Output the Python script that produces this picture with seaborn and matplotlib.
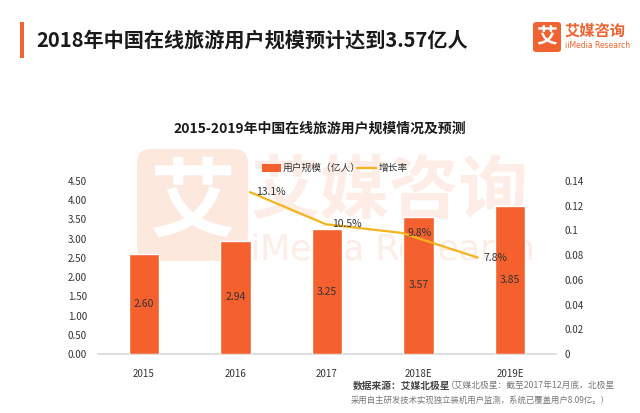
import matplotlib
matplotlib.use("Agg")
import matplotlib.pyplot as plt
import seaborn as sns
import pandas as pd
import numpy as np
from matplotlib.patches import FancyBboxPatch, Rectangle
from matplotlib.lines import Line2D

# ---- data ----
years = ["2015", "2016", "2017", "2018E", "2019E"]
users = [2.60, 2.94, 3.25, 3.57, 3.85]
growth_years = ["2016", "2017", "2018E", "2019E"]
growth = [0.131, 0.105, 0.098, 0.078]
growth_labels = ["13.1%", "10.5%", "9.8%", "7.8%"]
left_ticks = [0, 0.5, 1.0, 1.5, 2.0, 2.5, 3.0, 3.5, 4.0, 4.5]
right_ticks = [0, 0.02, 0.04, 0.06, 0.08, 0.1, 0.12, 0.14]
right_tick_labels = ["0", "0.02", "0.04", "0.06", "0.08", "0.1", "0.12", "0.14"]

sns.set_theme(style="white")
plt.rcParams['font.family'] = ['Noto Sans CJK SC', 'DejaVu Sans']

BAR = "#F5612E"
LINE = "#F5B41E"
PALE_SQ = "#FDE8DE"
PALE_TX = "#FDEDE6"
TXT = "#333333"

fig = plt.figure(figsize=(6.4, 4.13), dpi=100)

# background axes for watermark (drawn beneath everything)
bg = fig.add_axes([0, 0, 1, 1], zorder=-1)
bg.set_xlim(0, 640)
bg.set_ylim(413, 0)
bg.axis("off")
bg.add_patch(FancyBboxPatch((137, 149), 111, 112,
                            boxstyle="round,pad=0,rounding_size=14",
                            facecolor=PALE_SQ, edgecolor="none"))
bg.text(192, 204, "艾", fontsize=62, color="white", ha="center",
        va="center", fontweight="bold")
bg.text(390, 193, "艾媒咨询", fontsize=50, color=PALE_TX, ha="center",
        va="center", fontweight="bold")
bg.text(388, 249, "iiMedia Research", fontsize=25, color=PALE_TX,
        ha="center", va="center", family="DejaVu Sans")

ax = fig.add_axes([98/640, 59/413, 458/640, 173/413], zorder=1)
ax.patch.set_alpha(0)

df = pd.DataFrame({"year": years, "users": users})
sns.barplot(data=df, x="year", y="users", color=BAR, saturation=1, width=0.33,
            ax=ax, zorder=3)
ax.set_xlim(-0.5, 4.5)
ax.set_ylim(0, 4.5)
ax.set_yticks(left_ticks)
ax.set_yticklabels([f"{v:.2f}" for v in left_ticks])
ax.set_xlabel("")
ax.set_ylabel("")
for s in ["top", "right", "left"]:
    ax.spines[s].set_visible(False)
ax.spines["bottom"].set_color("#D9D9D9")
ax.tick_params(axis="both", length=0, labelsize=7, colors=TXT)
ax.tick_params(axis="y", pad=8)
ax.tick_params(axis="x", pad=11)
for i, c in enumerate(ax.containers[0]):
    ax.text(c.get_x() + c.get_width()/2, c.get_height()/2, f"{users[i]:.2f}",
            ha="center", va="center", fontsize=7.5, color=TXT, zorder=5)

# secondary axis (growth)
ax2 = ax.twinx()
ax2.set_ylim(0, 0.14)
ax2.set_yticks(right_ticks)
ax2.set_yticklabels(right_tick_labels)
ax2.tick_params(axis="y", length=0, labelsize=7, colors=TXT, pad=6)
for s in ax2.spines.values():
    s.set_visible(False)
ax3 = ax2.twiny()
for s in ax3.spines.values():
    s.set_visible(False)
gdf = pd.DataFrame({"x": np.arange(len(growth_years)), "g": growth})
sns.lineplot(data=gdf, x="x", y="g", color=LINE, lw=1.6, ax=ax3, zorder=4)
ax3.set_xlim(-2.0, 4.03)
ax3.set_xticks([])
ax3.set_xlabel("")
ax2.set_ylabel("")
for i, (g, lab) in enumerate(zip(growth, growth_labels)):
    ax3.text(i + 0.08, g, lab, fontsize=7.5, color=TXT, ha="left", va="center", zorder=6)

# legend
fig.patches.append(Rectangle((262/640, 1-172/413), 19/640, 8/413,
                             transform=fig.transFigure, facecolor=BAR, edgecolor="none"))
fig.text(283/640, 1-168/413, "用户规模（亿人）", fontsize=7, color=TXT, va="center")
fig.lines.append(Line2D([357/640, 376/640], [1-168/413, 1-168/413],
                        transform=fig.transFigure, color=LINE, lw=1.6))
fig.text(379/640, 1-168/413, "增长率", fontsize=7, color=TXT, va="center")

# titles
fig.patches.append(Rectangle((20/640, 1-58/413), 4/640, 36/413,
                             transform=fig.transFigure, facecolor="#F0622F", edgecolor="none"))
fig.text(36/640, 1-40/413, "2018年中国在线旅游用户规模预计达到3.57亿人", fontsize=14.5,
         color="#1a1a1a", va="center", ha="left", fontweight="bold")
fig.text(320/640, 1-129/413, "2015-2019年中国在线旅游用户规模情况及预测", fontsize=10,
         color="#1a1a1a", va="center", ha="center", fontweight="bold")

# logo
fig.patches.append(FancyBboxPatch((533/640, 1-52/413), 28/640, 30/413,
                                  boxstyle="round,pad=0,rounding_size=0.006",
                                  transform=fig.transFigure, facecolor="#F0622F",
                                  edgecolor="none"))
fig.text(547/640, 1-37/413, "艾", fontsize=15, color="white", ha="center",
         va="center", fontweight="bold")
fig.text(565/640, 1-31/413, "艾媒咨询", fontsize=11, color="#F0622F", ha="left",
         va="center", fontweight="bold")
fig.text(565/640, 1-46/413, "iiMedia Research", fontsize=5.5, color="#F0622F",
         ha="left", va="center", family="DejaVu Sans")

# source
fig.text(353/640, 1-386/413, "数据来源：艾媒北极星", fontsize=7, color="#444444",
         fontweight="bold", va="center", ha="left")
fig.text(446/640, 1-386/413, "（艾媒北极星：截至2017年12月底，北极星", fontsize=6.3,
         color="#777777", style="italic", va="center", ha="left")
fig.text(610/640, 1-400/413, "采用自主研发技术实现独立装机用户监测，系统已覆盖用户8.09亿。）",
         fontsize=6, color="#777777", style="italic", va="center", ha="right")

fig.savefig("out.png", dpi=100)
